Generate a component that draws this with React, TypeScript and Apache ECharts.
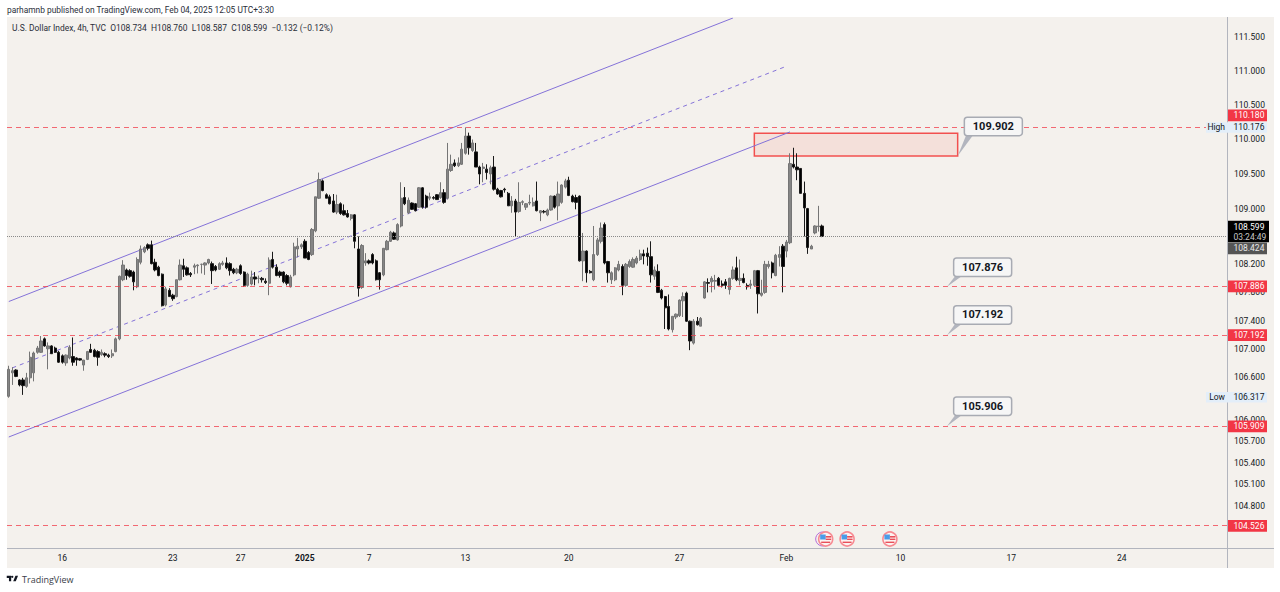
import React, { useEffect, useRef } from "react";
import * as echarts from "echarts";

// [open, high, low, close] 4h bars
const barsDec: number[][] = [
  [106.33,106.76,106.31,106.71],[106.66,106.74,106.49,106.69],[106.70,106.71,106.60,106.61],[106.56,106.57,106.47,106.49],
  [106.56,106.59,106.35,106.48],[106.47,106.66,106.45,106.59],[106.59,106.96,106.51,106.88],[106.66,106.96,106.54,106.94],
  [106.95,107.04,106.93,107.01],[106.95,107.18,106.94,107.11],[107.14,107.16,107.03,107.04],[107.00,107.09,106.71,107.04],
  [107.04,107.05,106.93,106.93],[107.01,107.03,106.94,106.95],[106.95,106.97,106.80,106.81],[106.90,106.92,106.79,106.81],
  [106.80,106.92,106.76,106.91],[106.87,107.05,106.85,107.02],[106.89,107.16,106.76,106.81],[106.87,106.88,106.76,106.84],
  [106.86,106.87,106.83,106.84],[106.77,106.84,106.69,106.84],[106.85,106.97,106.84,106.96],[106.99,107.07,106.94,106.95],
  [106.98,107.00,106.88,106.89],[106.96,106.98,106.76,106.88],[106.92,106.99,106.90,106.95],[106.93,106.95,106.88,106.91],
  [106.91,106.93,106.87,106.89],[106.90,106.99,106.87,106.93],[106.96,107.16,106.95,107.14],[107.14,108.04,107.12,108.03],
  [107.98,108.26,107.96,108.19],[108.12,108.14,107.98,108.04],[108.11,108.13,108.01,108.03],[108.09,108.11,107.83,107.95],
  [107.88,108.30,107.86,108.27],[108.23,108.47,108.20,108.42],[108.38,108.46,108.36,108.44],[108.48,108.50,108.40,108.43],
  [108.48,108.54,108.20,108.21],[108.23,108.28,108.10,108.12],[108.16,108.18,108.03,108.04],[108.06,108.07,107.60,107.61],
  [107.62,107.88,107.60,107.85],[107.83,107.86,107.74,107.74],[107.76,107.78,107.68,107.71],[107.74,107.98,107.73,107.98],
  [107.98,108.27,107.97,108.19],[108.18,108.28,108.02,108.13],[108.15,108.17,108.04,108.05],[108.07,108.09,108.02,108.05],
  [108.16,108.21,108.06,108.18],[108.18,108.20,108.07,108.19],[108.20,108.21,108.07,108.20],[108.19,108.23,108.05,108.22],
  [108.22,108.28,108.20,108.27],[108.21,108.24,107.92,108.11],[108.17,108.19,108.10,108.12],[108.13,108.23,108.12,108.21],
  [108.20,108.25,108.18,108.22],[108.22,108.30,108.13,108.15],[108.21,108.23,108.04,108.11],[108.13,108.15,108.06,108.08],
  [108.08,108.15,108.06,108.13],[108.18,108.20,108.05,108.07],[108.09,108.10,107.88,107.90],[107.90,108.08,107.88,108.06],
  [107.92,108.11,107.90,108.02],[108.02,108.09,107.90,107.99],[108.00,108.04,107.93,108.00],[108.00,108.02,107.94,107.98],[107.96,108.00,107.92,107.94],
  [107.93,108.30,107.76,108.26],[108.27,108.38,108.14,108.16],[108.16,108.20,108.03,108.04],[108.09,108.11,108.01,108.04],
  [108.09,108.10,107.93,107.95],[108.04,108.06,107.90,107.93],[107.88,108.05,107.87,108.02],[108.05,108.51,108.03,108.45],
];
const barsJanEarly: number[][] = [
  [108.42,108.58,108.30,108.46],[108.45,108.50,108.42,108.48],[108.53,108.56,108.29,108.29],[108.37,108.39,108.26,108.27],
  [108.34,108.72,108.32,108.70],[108.68,109.17,108.66,109.17],[109.15,109.52,109.14,109.42],[109.40,109.42,109.25,109.26],
  [109.20,109.22,109.15,109.15],[109.17,109.20,109.06,109.07],[109.11,109.21,108.94,108.95],[108.95,109.20,108.92,109.06],
  [109.07,109.09,108.91,108.93],[108.97,109.06,108.90,108.91],[108.93,108.98,108.87,108.88],[108.86,108.92,108.83,108.91],
  [108.91,108.92,108.43,108.53],[108.42,108.60,107.74,107.86],[107.87,108.49,107.85,108.47],[108.22,108.36,108.18,108.25],
  [108.25,108.27,108.20,108.22],[108.34,108.36,108.20,108.22],[108.25,108.27,107.97,107.98],[108.08,108.09,107.84,107.98],
  [108.05,108.43,108.03,108.43],[108.41,108.55,108.40,108.53],[108.53,108.68,108.52,108.66],[108.65,108.67,108.55,108.56],
  [108.55,108.79,108.54,108.77],[108.75,109.38,108.73,109.15],[109.16,109.31,109.05,109.07],[108.94,109.16,108.92,109.12],
  [109.08,109.09,108.98,108.99],[109.07,109.08,108.96,108.97],[109.02,109.31,109.01,109.30],[109.30,109.31,109.00,109.02],
  [109.18,109.20,109.00,109.02],[109.15,109.23,109.12,109.17],[109.16,109.18,109.13,109.15],[109.20,109.21,109.13,109.13],
  [109.16,109.38,109.14,109.23],[109.23,109.28,109.07,109.09],[109.15,109.95,109.13,109.57],[109.55,109.78,109.53,109.64],
  [109.66,109.71,109.60,109.62],[109.62,109.74,109.60,109.66],[109.64,109.95,109.63,109.86],[109.80,110.176,109.78,110.05],
  [110.05,110.10,109.78,109.88],[109.84,110.00,109.82,109.95],[109.82,109.95,109.60,109.60],[109.60,109.62,109.35,109.50],
  [109.58,109.66,109.38,109.60],[109.57,109.64,109.42,109.52],[109.50,109.62,109.35,109.59],[109.60,109.76,109.26,109.28],
  [109.28,109.30,109.20,109.21],[109.26,109.27,109.16,109.17],[109.28,109.30,109.23,109.27],[109.22,109.24,109.04,109.04],
  [109.04,109.18,108.94,109.11],[109.11,109.14,108.60,108.95],[108.96,109.38,108.94,109.09],[109.09,109.12,109.05,109.10],
  [109.02,109.08,108.98,109.07],[109.08,109.20,109.05,109.09],[109.04,109.16,109.03,109.09],[109.11,109.39,108.96,108.97],
  [108.94,108.98,108.82,108.97],[108.96,108.98,108.93,108.95],[108.91,109.00,108.89,108.98],[108.98,109.19,108.97,109.18],
  [109.18,109.19,109.00,109.02],[109.04,109.39,108.83,109.21],[109.09,109.35,109.07,109.34],[109.31,109.43,109.29,109.40],
  [109.41,109.46,109.18,109.19],[109.18,109.20,109.09,109.10],[109.16,109.20,108.99,109.09],
];
const barsJanLate: number[][] = [
  [109.18,109.19,108.24,108.25],[108.25,108.65,107.96,108.39],[108.39,108.40,107.94,108.08],[108.10,108.12,108.07,108.08],
  [107.98,108.75,107.96,108.34],[108.34,108.58,108.32,108.55],[108.53,108.80,108.50,108.72],[108.77,108.80,108.20,108.22],
  [108.24,108.25,107.94,108.08],[107.98,108.10,107.92,108.08],[107.98,108.16,107.96,108.15],[108.12,108.25,108.10,108.20],
  [108.17,108.20,107.76,107.90],[107.90,108.22,107.88,108.20],[108.17,108.27,108.15,108.24],[108.16,108.30,108.15,108.27],
  [108.22,108.32,108.20,108.29],[108.27,108.41,108.25,108.35],[108.35,108.41,108.20,108.32],[108.36,108.44,108.18,108.31],
  [108.31,108.53,107.94,108.05],[108.03,108.17,107.98,108.12],[108.10,108.20,107.79,107.80],[107.83,107.85,107.70,107.72],
  [107.74,107.75,107.28,107.58],[107.60,107.77,107.26,107.28],[107.27,107.46,107.23,107.46],[107.45,107.50,107.42,107.49],
  [107.47,107.70,107.45,107.69],[107.68,107.80,107.45,107.74],[107.79,107.81,107.38,107.39],[107.39,107.40,106.98,107.11],
  [107.08,107.42,107.06,107.39],[107.39,107.45,107.33,107.34],[107.32,107.45,107.32,107.43],
];
const barsFeb: number[][] = [
  [107.72,107.96,107.71,107.95],[107.94,108.00,107.80,107.93],[107.95,108.03,107.80,108.00],[107.96,108.05,107.84,107.97],
  [108.00,108.02,107.90,107.90],[107.92,107.97,107.87,107.90],[107.95,107.99,107.85,107.90],[107.84,108.01,107.77,108.00],
  [108.00,108.17,107.98,108.12],[108.15,108.31,107.96,107.98],[107.97,108.27,107.90,108.00],[108.00,108.07,107.93,107.94],
  [107.90,107.93,107.84,107.88],[107.90,107.98,107.85,107.92],[107.90,108.12,107.88,108.11],[108.11,108.12,107.50,107.78],
  [107.76,107.98,107.74,107.79],[107.80,108.25,107.78,108.20],[108.17,108.25,108.14,108.20],[108.22,108.24,108.00,108.08],
  [108.04,108.35,108.03,108.33],[108.30,108.46,108.17,108.34],[108.46,108.49,107.80,108.17],[108.39,108.55,108.30,108.52],
  [108.51,109.80,108.49,109.65],[109.64,109.88,109.58,109.60],[109.60,109.80,109.41,109.56],[109.58,109.58,109.22,109.22],
  [109.22,109.39,108.60,109.01],[109.00,109.01,108.35,108.44],[108.42,108.48,108.42,108.46],
  [108.65,108.76,108.63,108.75],[108.74,109.04,108.67,108.75],[108.75,108.77,108.59,108.60],
];
const allBars = [...barsDec, ...barsJanEarly, ...barsJanLate, ...barsFeb];

const CATEGORY_COUNT = 342;
const xTickIndexes = [15, 46, 65, 83, 101, 128, 157, 188, 218, 250, 281, 312];
const xTickLabels = ["16", "23", "27", "2025", "7", "13", "20", "27", "Feb", "10", "17", "24"];
const yTicks = [111.5, 111, 110.5, 110, 109.5, 109, 108.2, 107.8, 107.4, 107, 106.6, 106, 105.7, 105.4, 105.1, 104.8];

const redLevels = [110.18, 107.886, 107.192, 105.909, 104.526];
const lastPrice = 108.599;

const channelUpper = [[0, 107.67], [203, 111.78]];
const channelLower = [[0, 105.76], [219, 110.11]];
const channelMid = [[1, 106.73], [218, 111.07]];
const zoneCorners = [[209, 110.09], [266, 109.76]];

const calloutTexts = ["109.902", "107.876", "107.192", "105.906"];
const calloutTips = [[266, 109.76], [263, 107.88], [263, 107.19], [263, 105.91]];
const calloutCentres = [[276, 110.19], [273, 108.16], [273, 107.48], [273, 106.19]];

const eventIndexes = [229, 235, 247];

const tagTexts = ["110.180", "110.176", "108.599", "108.424", "107.886", "107.192", "106.317", "105.909", "104.526"];
const tagPrices = [110.35, 110.176, 108.67, 108.43, 107.886, 107.192, 106.317, 105.909, 104.526];
const tagFills = ["#f23645", "#e3eef9", "#000000", "#555555", "#f23645", "#f23645", "#e3eef9", "#f23645", "#f23645"];
const tagColors = ["#ffffff", "#131722", "#ffffff", "#e8e8e8", "#ffffff", "#ffffff", "#131722", "#ffffff", "#ffffff"];
const tagSides = ["", "High", "", "", "", "", "Low", "", ""];

const FONT = "Roboto, 'Noto Sans', sans-serif";
const INK = "#131722";
const TV_LOGO = "M14 6H2v6h6v9h6V6Zm18.5 0-6 15h-7l6-15h7ZM20 9a3 3 0 1 1-6 0 3 3 0 0 1 6 0Z";

function lineSeries(data: number[][], dashed: boolean) {
  return {
    type: "line", data, showSymbol: false, symbol: "none", silent: true, z: 3,
    lineStyle: { color: "#8472d8", width: 1, type: dashed ? [4, 4] : "solid" },
  };
}

export default function App() {
  const ref = useRef<HTMLDivElement>(null);
  useEffect(() => {
    document.body.style.margin = "0";
    echarts.graphic.registerShape("tvlogo", echarts.graphic.extendPath(TV_LOGO, {}) as any);
    const chart = echarts.init(ref.current!, null, { renderer: "svg" });
    const categories = Array.from({ length: CATEGORY_COUNT }, (_, i) => {
      const k = xTickIndexes.indexOf(i);
      return k >= 0 ? xTickLabels[k] : "";
    });
    chart.setOption({
      animation: false,
      backgroundColor: "#ffffff",
      textStyle: { fontFamily: FONT },
      grid: { left: 7, right: 53, top: 18, bottom: 44, containLabel: false },
      xAxis: {
        type: "category", data: categories, boundaryGap: true,
        axisLine: { show: false }, axisTick: { show: false }, splitLine: { show: false },
        axisLabel: {
          interval: (i: number) => xTickIndexes.includes(i),
          color: INK, fontSize: 8.5, margin: 5, fontFamily: FONT,
          formatter: (v: string) => (v === "2025" ? "{b|2025}" : v),
          rich: { b: { fontWeight: "bold", fontSize: 8.5, color: INK, fontFamily: FONT } },
        },
      },
      yAxis: {
        type: "log", logBase: 10, min: 104.22, max: 111.78, position: "right", scale: true,
        axisLine: { show: false }, axisTick: { show: false }, splitLine: { show: false }, minorTick: { show: false },
        axisLabel: {
          customValues: yTicks, color: INK, fontSize: 8.5, margin: 7, fontFamily: FONT,
          formatter: (v: number) => Number(v).toFixed(3),
        },
      },
      graphic: [
        { type: "rect", z: -10, silent: true, shape: { x: 7, y: 17, width: 1267, height: 551 }, style: { fill: "#f4f1ed" } },
        { type: "line", z: 1, silent: true, shape: { x1: 7, y1: 548.5, x2: 1274, y2: 548.5 }, style: { stroke: "#b2b5be", lineWidth: 1 } },
        { type: "line", z: 1, silent: true, shape: { x1: 1227.5, y1: 17, x2: 1227.5, y2: 568 }, style: { stroke: "#b2b5be", lineWidth: 1 } },
        { type: "text", x: 7, y: 6, silent: true, style: { text: "parhamnb published on TradingView.com, Feb 04, 2025 12:05 UTC+3:30", font: `8.4px ${FONT}`, fill: "#2a2e39" } },
        { type: "text", x: 12, y: 24, silent: true, style: { text: "U.S. Dollar Index, 4h, TVC  O108.734  H108.760  L108.587  C108.599  −0.132 (−0.12%)", font: `8.45px ${FONT}`, fill: "#2a2e39" } },
        { type: "tvlogo", x: 6, y: 573.5, scaleX: 0.37, scaleY: 0.37, silent: true, style: { fill: "#131722" } },
        { type: "text", x: 22, y: 574.5, silent: true, style: { text: "TradingView", font: `9px 'Open Sans', ${FONT}`, fill: "#3a3e49" } },
      ],
      series: [
        {
          type: "line", data: [], silent: true, z: 1,
          markArea: {
            silent: true,
            itemStyle: { color: "#f4e0da", borderColor: "#f2504f", borderWidth: 1.5 },
            data: [[{ coord: zoneCorners[0] }, { coord: zoneCorners[1] }]],
          },
        },
        {
          type: "line", data: [], silent: true, z: 2,
          markLine: {
            silent: true, symbol: "none", label: { show: false },
            data: [
              ...redLevels.map((v) => ({ yAxis: v, lineStyle: { color: "#f23645bb", type: [5, 4], width: 1 } })),
              { yAxis: lastPrice, lineStyle: { color: "#8a8a8a", type: [1, 1], width: 1 } },
            ],
          },
        },
        lineSeries(channelUpper, false),
        lineSeries(channelLower, false),
        lineSeries(channelMid, true),
        {
          type: "candlestick", barWidth: 2.8, silent: true, z: 4,
          data: allBars.map(([o, h, l, c]) => [o, c, l, h]),
          itemStyle: { color: "#858585", color0: "#000000", borderColor: "#757575", borderColor0: "#1a1a1a", borderWidth: 1 },
        },
        {
          type: "custom", silent: true, z: 6, clip: false,
          data: calloutTips,
          renderItem: (p: any, api: any) => {
            const i = p.dataIndex;
            const tip = api.coord(calloutTips[i]);
            const c = api.coord(calloutCentres[i]);
            const w = 58, h = 18.5;
            const left = c[0] - w / 2, bottom = c[1] + h / 2;
            return {
              type: "group",
              children: [
                { type: "polygon", shape: { points: [tip, [left + 2, bottom - 1], [left + 9, bottom - 1]] }, style: { fill: "#b2b5be" } },
                { type: "rect", shape: { x: left, y: c[1] - h / 2, width: w, height: h, r: 3 }, style: { fill: "#f6f6f6", stroke: "#a8abb3", lineWidth: 1.5 } },
                { type: "text", x: c[0], y: c[1], style: { text: calloutTexts[i], font: `bold 11px ${FONT}`, fill: INK, textAlign: "center", textVerticalAlign: "middle" } },
              ],
            };
          },
        },
        {
          type: "custom", silent: true, z: 6, clip: false,
          data: eventIndexes.map((i) => [i, 104.4]),
          renderItem: (p: any, api: any) => {
            const x = api.coord([eventIndexes[p.dataIndex], 104.5])[0];
            const y = p.coordSys.y + p.coordSys.height - 9;
            const kids: any[] = [];
            if (p.dataIndex === 0) kids.push({ type: "circle", shape: { cx: x - 3, cy: y, r: 7 }, style: { fill: "#f4f1ed", stroke: "#b56ad8", lineWidth: 1 } });
            kids.push(
              { type: "circle", shape: { cx: x, cy: y, r: 7 }, style: { fill: "#fdf3f1", stroke: "#f78a92", lineWidth: 1.6 } },
              { type: "rect", shape: { x: x - 5.5, y: y - 4.5, width: 5.5, height: 5 }, style: { fill: "#4a9ce8" } },
              { type: "rect", shape: { x: x, y: y - 3, width: 5.5, height: 1.6 }, style: { fill: "#e8505b" } },
              { type: "rect", shape: { x: x, y: y - 0.4, width: 5.5, height: 1.4 }, style: { fill: "#e8505b" } },
              { type: "rect", shape: { x: x - 4.5, y: y + 2.6, width: 9, height: 1.4 }, style: { fill: "#e8505b" } },
            );
            return { type: "group", children: kids };
          },
        },
        {
          type: "custom", silent: true, z: 20, clip: false,
          data: tagPrices.map((v) => [340, v]),
          renderItem: (p: any, api: any) => {
            const i = p.dataIndex;
            const y = api.coord([340, tagPrices[i]])[1];
            const x0 = p.coordSys.x + p.coordSys.width + 1;
            const isClock = tagTexts[i] === "108.599";
            const side = tagSides[i];
            const h = isClock ? 21.5 : side ? 10.5 : 11.8;
            const w = isClock ? 41 : 39;
            const sideW = side ? 22 : 0;
            const kids: any[] = [
              { type: "rect", shape: { x: x0 - sideW, y: y - h / 2, width: w + sideW, height: h }, style: { fill: tagFills[i] } },
              { type: "text", x: x0 + 5.5, y: isClock ? y - 5 : y, style: { text: tagTexts[i], font: `8.5px ${FONT}`, fill: tagColors[i], textAlign: "left", textVerticalAlign: "middle" } },
            ];
            if (isClock) kids.push({ type: "text", x: x0 + 5.5, y: y + 5.5, style: { text: "03:24:49", font: `8.5px ${FONT}`, fill: "#c8c8c8", textAlign: "left", textVerticalAlign: "middle" } });
            if (side) kids.push({ type: "text", x: x0 - 3, y, style: { text: side, font: `8.5px ${FONT}`, fill: INK, textAlign: "right", textVerticalAlign: "middle" } });
            return { type: "group", children: kids };
          },
        },
      ],
    });
    return () => chart.dispose();
  }, []);
  return <div ref={ref} style={{ position: "absolute", left: 0, top: 0, width: 1280, height: 592 }} />;
}
